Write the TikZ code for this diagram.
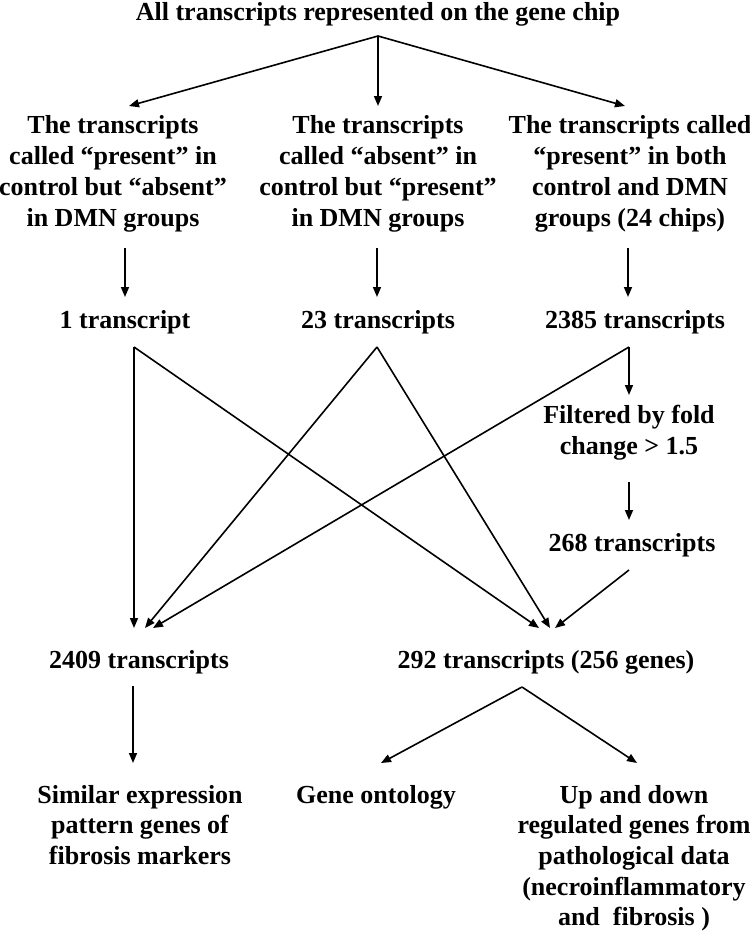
\documentclass[tikz,border=0pt]{standalone}
\usepackage{fontspec}
\setmainfont{Liberation Serif}
\usetikzlibrary{arrows.meta}
\begin{document}
\begin{tikzpicture}[x=1pt,y=-1pt,
  txt/.style={anchor=base,inner sep=0pt,align=center,font=\fontsize{26}{30.7}\selectfont\bfseries},
  conn/.style={line width=1.6pt,-{Triangle[length=10pt,width=8pt]}},
  plain/.style={line width=1.6pt}]
\useasboundingbox (0,0) rectangle (750,935);
% text nodes (multi-line nodes are placed by the baseline of their last line)
\node[txt] (all) at (378,20) {All transcripts represented on the gene chip};
\node[txt] (b1) at (113,226) {The transcripts\\called “present” in\\control but “absent”\\in DMN groups};
\node[txt] (b2) at (378,226) {The transcripts\\called “absent” in\\control but “present”\\in DMN groups};
\node[txt] (b3) at (630,226) {The transcripts called\\“present” in both\\control and DMN\\groups (24 chips)};
\node[txt] (t1) at (125,328) {1 transcript};
\node[txt] (t23) at (378,328) {23 transcripts};
\node[txt] (t2385) at (635,328) {2385 transcripts};
\node[txt] (filt) at (629,454) {Filtered by fold\\change > 1.5};
\node[txt] (t268) at (632,551) {268 transcripts};
\node[txt] (t2409) at (139,668) {2409 transcripts};
\node[txt] (t292) at (546,668) {292 transcripts (256 genes)};
\node[txt] (sim) at (140,864.4) {Similar expression\\pattern genes of\\fibrosis markers};
\node[txt] (go) at (376,803) {Gene ontology};
\node[txt] (up) at (634,925.8) {Up and down\\regulated genes from\\pathological data\\(necroinflammatory\\and \ fibrosis )};
% connection points
\coordinate (a0) at (378,36);
\coordinate (a1) at (129,106);
\coordinate (a2) at (378,106);
\coordinate (a3) at (625,106);
\coordinate (d1s) at (125,248); \coordinate (d1e) at (125,297);
\coordinate (d2s) at (377,248); \coordinate (d2e) at (377,297);
\coordinate (d3s) at (628,248); \coordinate (d3e) at (628,297);
\coordinate (s1) at (134,347);
\coordinate (s23) at (377,347);
\coordinate (s2385) at (629,347);
\coordinate (f1) at (629,395);
\coordinate (f2s) at (629,482); \coordinate (f2e) at (629,520);
\coordinate (s268) at (629,570);
\coordinate (L1) at (134,628); \coordinate (L2) at (145,628); \coordinate (L3) at (153,628);
\coordinate (R1) at (539,628); \coordinate (R2) at (550,628); \coordinate (R3) at (555,628);
\coordinate (s2409) at (133,686); \coordinate (e2409) at (133,763);
\coordinate (a292) at (522,687);
\coordinate (g1) at (381,763); \coordinate (g2) at (637,763);
% connectors
\draw[conn] (a0) -- (a1);
\draw[conn] (a0) -- (a2);
\draw[conn] (a0) -- (a3);
\draw[conn] (d1s) -- (d1e);
\draw[conn] (d2s) -- (d2e);
\draw[conn] (d3s) -- (d3e);
\draw[conn] (s1) -- (L1);
\draw[conn] (s1) -- (R1);
\draw[conn] (s23) -- (L2);
\draw[conn] (s23) -- (R2);
\draw[conn] (s2385) -- (f1);
\draw[conn] (s2385) -- (L3);
\draw[conn] (f2s) -- (f2e);
\draw[conn] (s268) -- (R3);
\draw[conn] (s2409) -- (e2409);
\draw[conn] (a292) -- (g1);
\draw[conn] (a292) -- (g2);
\end{tikzpicture}
\end{document}
